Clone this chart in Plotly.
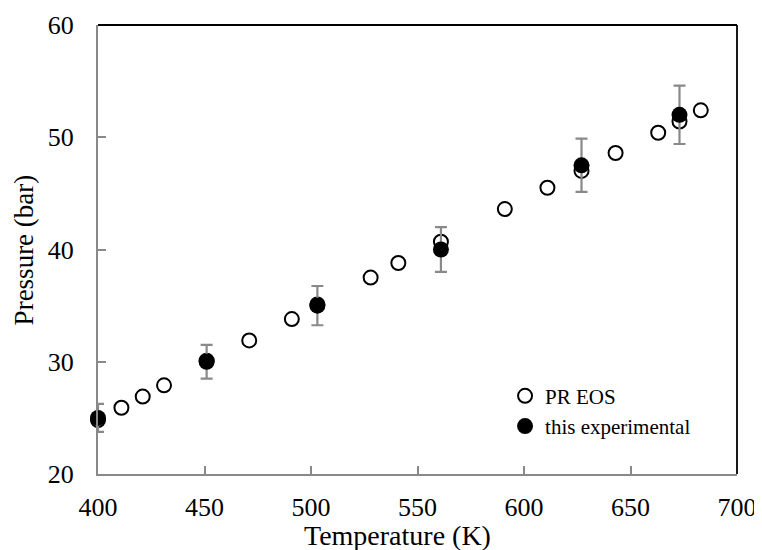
import plotly.graph_objects as go

# PR EOS (open circles)
pr_T = [400, 411, 421, 431, 451, 471, 491, 503, 528, 541, 561, 591, 611, 627, 643, 663, 673, 683]
pr_P = [24.8, 25.9, 26.9, 27.9, 30.1, 31.9, 33.8, 35.1, 37.5, 38.8, 40.7, 43.6, 45.5, 47.0, 48.6, 50.4, 51.4, 52.4]

# this experimental (filled circles, 5% error bars)
ex_T = [400, 451, 503, 561, 627, 673]
ex_P = [25.0, 30.0, 35.0, 40.0, 47.5, 52.0]
ex_err = [1.25, 1.5, 1.75, 2.0, 2.375, 2.6]

x_ticks = [400, 450, 500, 550, 600, 650, 700]
y_ticks = [20, 30, 40, 50, 60]

FONT = "Liberation Serif"
GREY = "#898989"

fig = go.Figure()
fig.add_trace(go.Scatter(
    x=pr_T, y=pr_P, mode="markers", name="PR EOS",
    marker=dict(symbol="circle-open", size=14, color="black", line=dict(width=2, color="black")),
    cliponaxis=False,
))
fig.add_trace(go.Scatter(
    x=ex_T, y=ex_P, mode="markers", name="this experimental",
    marker=dict(symbol="circle", size=16, color="black"),
    error_y=dict(type="data", array=ex_err, visible=True, color=GREY, thickness=2.2, width=6),
    cliponaxis=False,
))

# page body has an 8px margin, so the figure is sized to fit the 762x550 window
fig.update_layout(
    width=754, height=542,
    margin=dict(l=90, r=25, t=17, b=76),
    paper_bgcolor="white", plot_bgcolor="white",
    font=dict(family=FONT, size=26, color="black"),
    showlegend=True,
    legend=dict(x=0.637, y=0.219, xanchor="left", yanchor="top",
                font=dict(family=FONT, size=21, color="black"),
                bgcolor="rgba(0,0,0,0)", itemwidth=30, tracegroupgap=0),
    xaxis=dict(range=[400, 700], tickvals=x_ticks, showgrid=False, zeroline=False,
               showline=True, linecolor=GREY, linewidth=2, automargin=False,
               ticks="inside", ticklen=8, tickwidth=1.5, tickcolor=GREY,
               tickfont=dict(family=FONT, size=26), ticklabelstandoff=9,
               ticklabeloverflow="allow"),
    yaxis=dict(range=[20, 60], tickvals=y_ticks, showgrid=False, zeroline=False,
               showline=True, linecolor=GREY, linewidth=2, automargin=False,
               ticks="inside", ticklen=8, tickwidth=1.5, tickcolor=GREY,
               tickfont=dict(family=FONT, size=26), ticklabelstandoff=17,
               ticklabeloverflow="allow"),
    shapes=[
        dict(type="line", xref="paper", yref="paper", x0=0, x1=1, y0=1, y1=1,
             line=dict(color="black", width=1.8)),
        dict(type="line", xref="paper", yref="paper", x0=1, x1=1, y0=0, y1=1,
             line=dict(color="black", width=1.8)),
    ],
    annotations=[
        dict(text="Temperature (K)", xref="paper", yref="paper", x=0.468, y=-0.138,
             xanchor="center", yanchor="middle", showarrow=False,
             font=dict(family=FONT, size=28, color="black")),
        dict(text="Pressure (bar)", xref="paper", yref="paper", x=-0.116, y=0.5,
             xanchor="center", yanchor="middle", textangle=-90, showarrow=False,
             font=dict(family=FONT, size=27, color="black")),
    ],
)

fig.write_html("out.html")
